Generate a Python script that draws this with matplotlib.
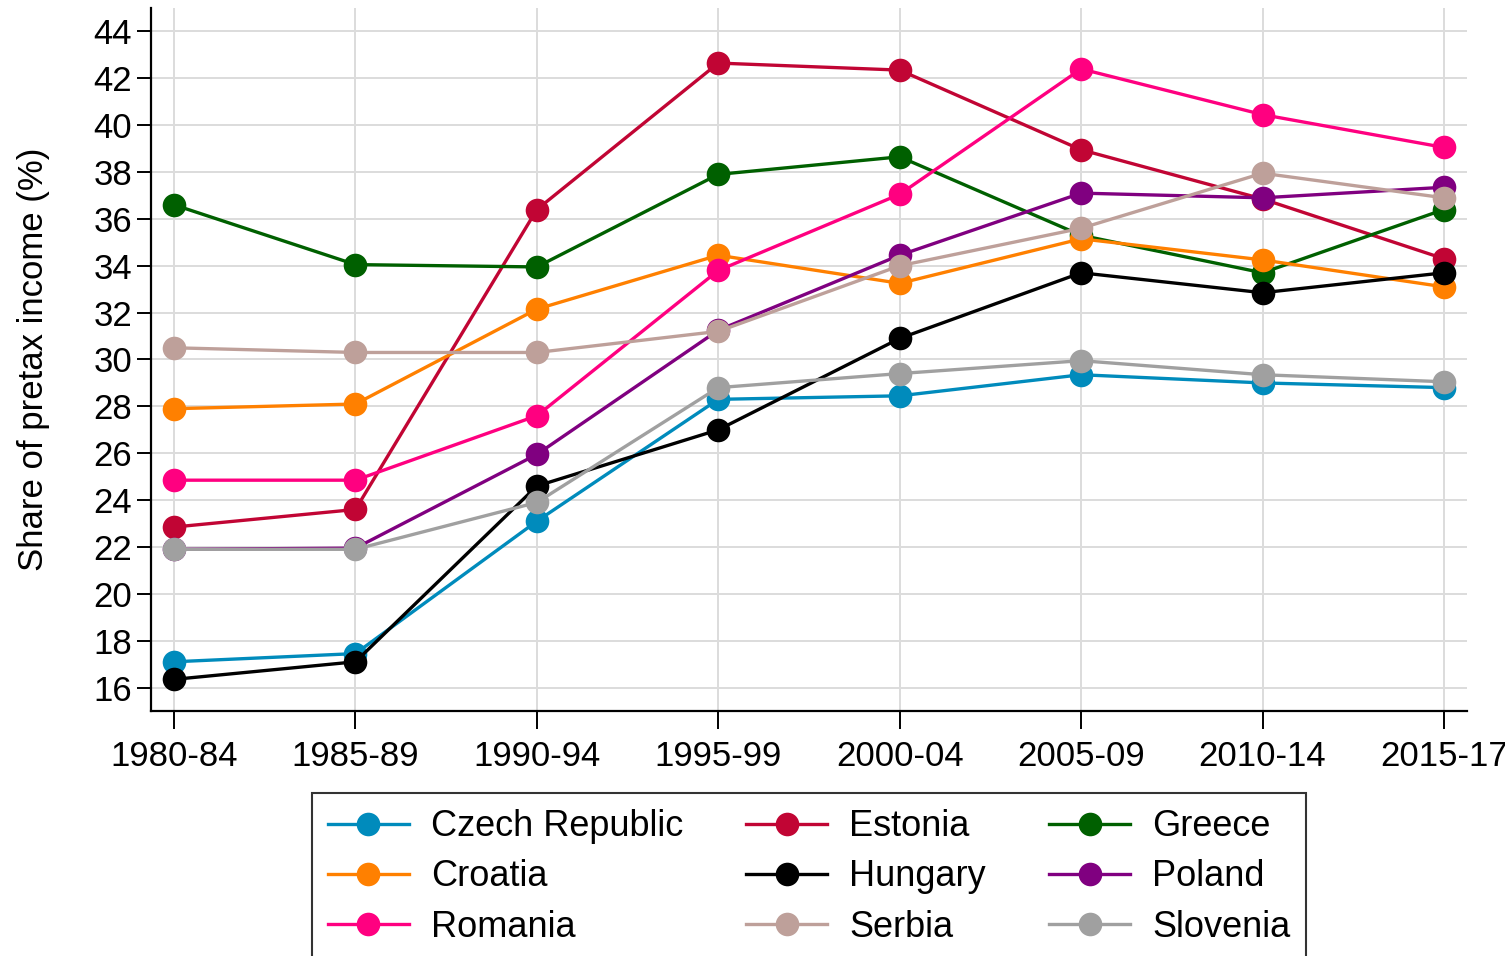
import matplotlib
matplotlib.use("Agg")
import matplotlib.pyplot as plt

plt.rcParams['font.family'] = ['Liberation Sans', 'DejaVu Sans']

periods = ["1980-84", "1985-89", "1990-94", "1995-99", "2000-04", "2005-09", "2010-14", "2015-17"]

czech = [17.1, 17.45, 23.1, 28.3, 28.45, 29.35, 29.0, 28.8]
estonia = [22.85, 23.6, 36.4, 42.65, 42.35, 38.95, 36.85, 34.3]
greece = [36.6, 34.05, 33.95, 37.9, 38.65, 35.3, 33.7, 36.4]
croatia = [27.9, 28.1, 32.15, 34.45, 33.25, 35.15, 34.25, 33.1]
hungary = [16.35, 17.1, 24.6, 27.0, 30.9, 33.7, 32.85, 33.7]
poland = [21.9, 21.95, 25.95, 31.25, 34.45, 37.1, 36.9, 37.35]
romania = [24.85, 24.85, 27.6, 33.8, 37.05, 42.4, 40.45, 39.05]
serbia = [30.5, 30.3, 30.3, 31.2, 34.0, 35.6, 37.95, 36.9]
slovenia = [21.9, 21.9, 23.9, 28.8, 29.4, 29.95, 29.35, 29.05]

series = [
    ("Czech Republic", czech, "#008bbc"),
    ("Estonia", estonia, "#c10534"),
    ("Greece", greece, "#006000"),
    ("Croatia", croatia, "#ff8000"),
    ("Hungary", hungary, "#000000"),
    ("Poland", poland, "#800080"),
    ("Romania", romania, "#ff0080"),
    ("Serbia", serbia, "#bea09a"),
    ("Slovenia", slovenia, "#a0a0a0"),
]

fig = plt.figure(figsize=(15.05, 9.56), dpi=100)
ax = fig.add_axes([151/1505, 1-711/956, (1467-151)/1505, (711-8)/956])

x = list(range(len(periods)))
handles = {}
for name, vals, col in series:
    h, = ax.plot(x, vals, color=col, lw=2.4, marker='o', markersize=17,
                 markeredgewidth=0, label=name, zorder=3)
    handles[name] = h

ax.set_xlim(-0.127, 7.127)
ax.set_ylim(15.0, 45.0)
ax.set_yticks(range(16, 45, 2))
ax.set_xticks(x)
ax.set_xticklabels(periods)
ax.grid(True, color='#dcdcdc', lw=1.4, zorder=0)
ax.set_axisbelow(True)
for s in ['top', 'right']:
    ax.spines[s].set_visible(False)
for s in ['left', 'bottom']:
    ax.spines[s].set_linewidth(1.6)
    ax.spines[s].set_color('black')
ax.tick_params(axis='both', labelsize=25, length=10, width=1.4, direction='out')
ax.tick_params(axis='x', pad=8, length=13)
ax.set_ylabel("Share of pretax income (%)", fontsize=25, labelpad=31)

order = ["Czech Republic", "Croatia", "Romania",
         "Estonia", "Hungary", "Serbia",
         "Greece", "Poland", "Slovenia"]
leg = fig.legend([handles[n] for n in order], order, ncol=3,
                 loc='upper center', bbox_to_anchor=(809/1505, 1-793/956),
                 borderaxespad=0.0,
                 fontsize=26, frameon=True, fancybox=False, edgecolor='black',
                 handlelength=2.25, handletextpad=0.6, columnspacing=1.75,
                 labelspacing=0.42, borderpad=0.45, markerscale=1.0)
leg.get_frame().set_linewidth(1.5)

fig.savefig("out.png", dpi=100)
